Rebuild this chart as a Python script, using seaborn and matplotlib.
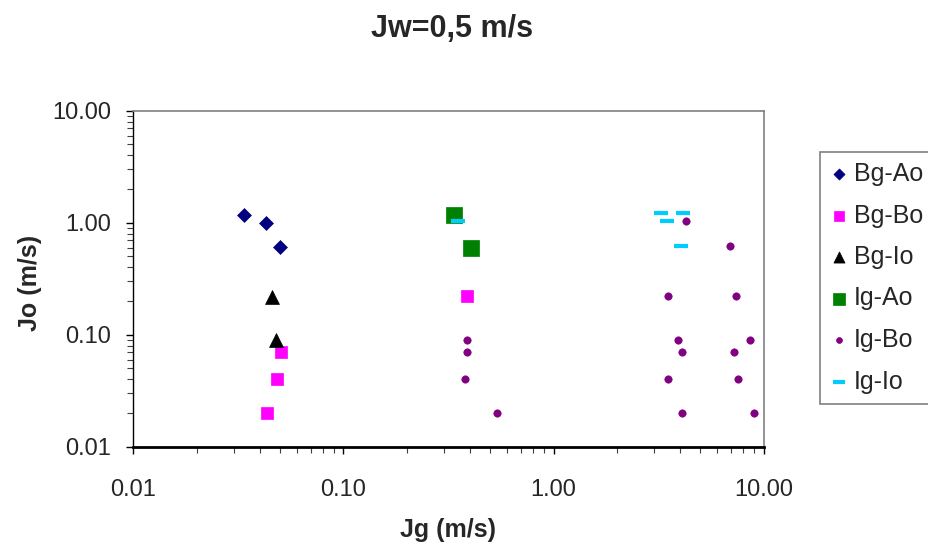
import matplotlib
matplotlib.use("Agg")
import matplotlib.pyplot as plt
import seaborn as sns
from matplotlib.ticker import FixedLocator, FormatStrFormatter, LogLocator

#--------------------------------------- DATA ---------------------------------------#
bg_ao_jg = [0.0335, 0.0427, 0.0500]
bg_ao_jo = [1.18, 1.00, 0.61]

bg_bo_jg = [0.0503, 0.0481, 0.0432, 0.388]
bg_bo_jo = [0.070, 0.040, 0.020, 0.222]

bg_io_jg = [0.0456, 0.0476]
bg_io_jo = [0.216, 0.089]

ig_ao_jg = [0.335, 0.406]
ig_ao_jo = [1.16, 0.60]

ig_bo_jg = [4.26, 6.91, 3.49, 7.39, 0.388, 3.89, 8.59, 0.388, 4.07, 7.20,
            0.380, 3.49, 7.53, 0.54, 4.07, 8.97]
ig_bo_jo = [1.025, 0.625, 0.222, 0.222, 0.090, 0.090, 0.090, 0.070, 0.070, 0.070,
            0.040, 0.040, 0.040, 0.020, 0.020, 0.020]

ig_io_jg = [0.352, 3.23, 4.11, 3.46, 4.04]
ig_io_jo = [1.025, 1.21, 1.21, 1.025, 0.625]

labels = ["Bg-Ao", "Bg-Bo", "Bg-Io", "Ig-Ao", "Ig-Bo", "Ig-Io"]
xs = [bg_ao_jg, bg_bo_jg, bg_io_jg, ig_ao_jg, ig_bo_jg, ig_io_jg]
ys = [bg_ao_jo, bg_bo_jo, bg_io_jo, ig_ao_jo, ig_bo_jo, ig_io_jo]

ticks = [0.01, 0.1, 1, 10]

#--------------------------------------- STYLE ---------------------------------------#
clr = ["#000080", "#FF00FF", "#000000", "#008000", "#800080", "#00CCFF"]
mk = ["D", "s", "^", "s", "o", "_"]
sz = [50, 75, 100, 120, 28, 110]

sns.set_style("white")
plt.rcParams['font.family'] = ['Liberation Sans', 'DejaVu Sans']

fig = plt.figure(figsize=(9.29, 5.43), dpi=100)
ax = fig.add_axes([133.3 / 929, 1 - 446.7 / 543, 630.4 / 929, 336 / 543])

#--------------------------------------- PLOT ---------------------------------------#
for i in range(len(labels)):
    if mk[i] == "_":
        sns.scatterplot(x=xs[i], y=ys[i], color=clr[i], marker=mk[i], s=sz[i],
                        linewidth=3, label=labels[i], ax=ax, zorder=3)
    else:
        sns.scatterplot(x=xs[i], y=ys[i], color=clr[i], marker=mk[i], s=sz[i],
                        edgecolor=clr[i], linewidth=0.5, label=labels[i], ax=ax, zorder=3)

ax.set_xscale('log')
ax.set_yscale('log')
ax.set_xlim(0.01, 10)
ax.set_ylim(0.01, 10)
ax.xaxis.set_major_locator(FixedLocator(ticks))
ax.yaxis.set_major_locator(FixedLocator(ticks))
ax.xaxis.set_minor_locator(LogLocator(base=10, subs=range(2, 10)))
ax.yaxis.set_minor_locator(LogLocator(base=10, subs=range(2, 10)))
ax.xaxis.set_major_formatter(FormatStrFormatter('%.2f'))
ax.yaxis.set_major_formatter(FormatStrFormatter('%.2f'))
ax.xaxis.set_minor_formatter(plt.NullFormatter())
ax.yaxis.set_minor_formatter(plt.NullFormatter())

ax.tick_params(axis='both', which='major', direction='out', length=5, width=1,
               labelsize=17, color='black', bottom=True, left=True)
ax.tick_params(axis='both', which='minor', direction='out', length=4, width=0.8,
               color='#404040', bottom=True, left=True)
ax.tick_params(axis='x', which='major', pad=18)
ax.tick_params(axis='y', which='major', pad=11)

for s in ['top', 'right']:
    ax.spines[s].set_color('#808080')
    ax.spines[s].set_linewidth(1.2)
ax.spines['left'].set_color('black')
ax.spines['left'].set_linewidth(1)
ax.spines['bottom'].set_color('black')
ax.spines['bottom'].set_linewidth(2)

fig.text(452 / 929, 1 - 29 / 543, "Jw=0,5 m/s", ha='center', va='center',
         fontsize=22, fontweight='bold')
fig.text(448 / 929, 1 - 530 / 543, "Jg (m/s)", ha='center', va='center',
         fontsize=18, fontweight='bold')
fig.text(30 / 929, 1 - 283 / 543, "Jo (m/s)", ha='center', va='center',
         fontsize=18, fontweight='bold', rotation=90)

leg = ax.legend(loc='upper left', bbox_to_anchor=(820 / 929, 1 - 152 / 543),
                bbox_transform=fig.transFigure, borderaxespad=0, fontsize=18,
                labelspacing=0.7, handlelength=0.7, handletextpad=0.25,
                borderpad=0.4, markerscale=0.8, fancybox=False,
                edgecolor='#808080', framealpha=1)
leg.get_frame().set_linewidth(1.2)

plt.savefig("out.png", dpi=100)
